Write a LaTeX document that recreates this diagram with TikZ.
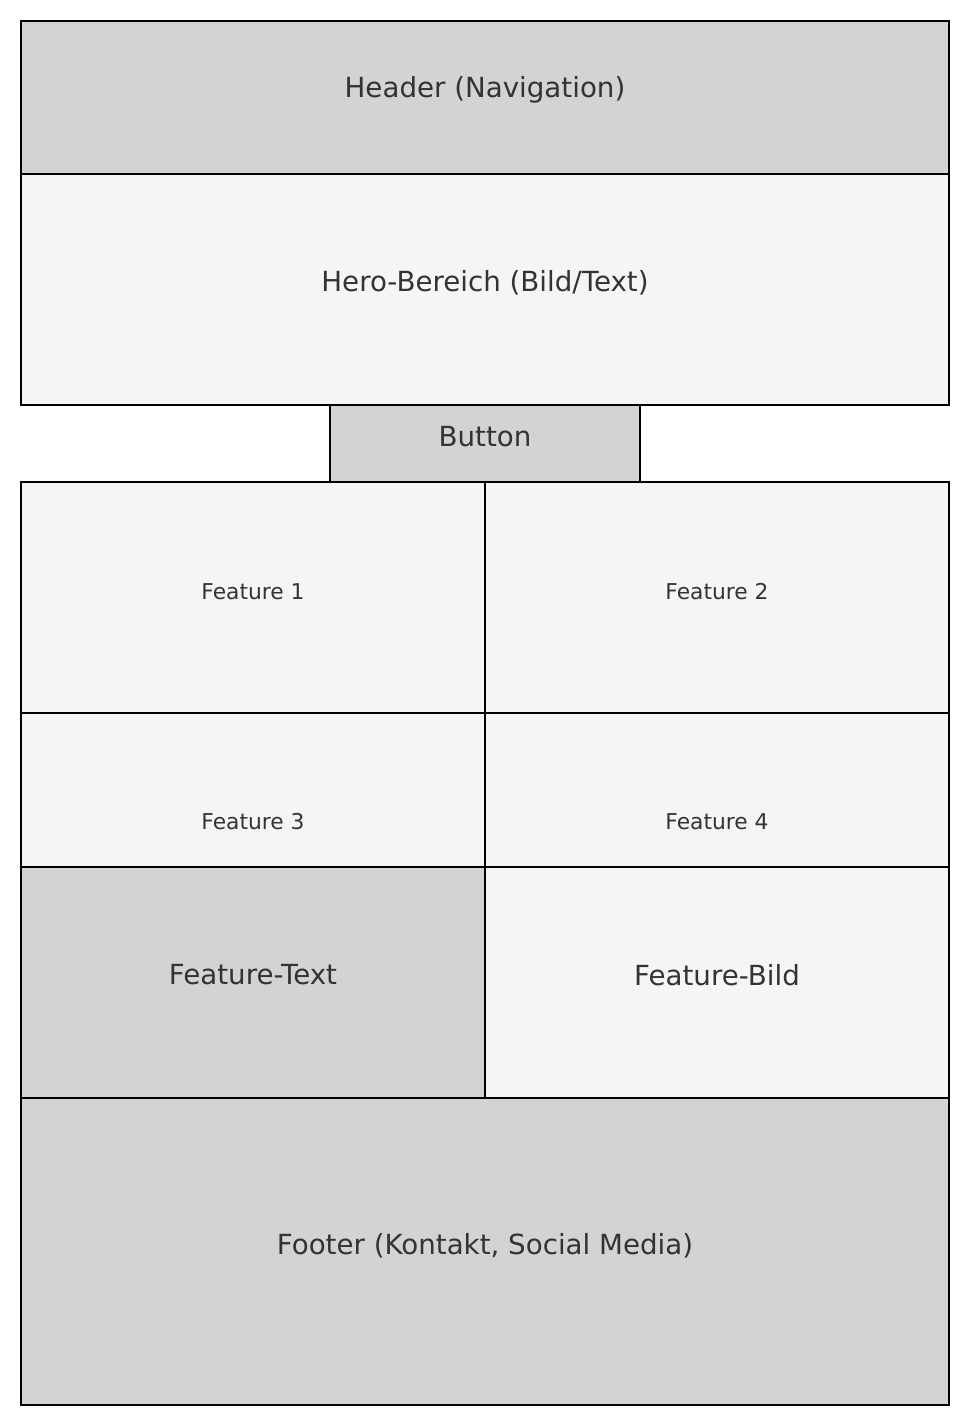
\documentclass[tikz,border=0pt]{standalone}
\usepackage{fontspec}
\setmainfont{DejaVu Sans}
\definecolor{boxdark}{HTML}{D3D3D3}
\definecolor{boxlight}{HTML}{F5F5F5}
\definecolor{txt}{HTML}{333333}
\begin{document}
\begin{tikzpicture}[x=1pt,y=-1pt,
  dark/.style={fill=boxdark,draw=black,line width=2.8pt},
  light/.style={fill=boxlight,draw=black,line width=2.8pt},
  big/.style={text=txt,font=\fontsize{27.7}{32}\selectfont,inner sep=0pt},
  small/.style={text=txt,font=\fontsize{21.8}{25}\selectfont,inner sep=0pt}]
\useasboundingbox (0,0) rectangle (969,1426);
\draw[dark] (21,21) rectangle (949,174);
\draw[light] (21,174) rectangle (949,405);
\draw[dark] (330,405) rectangle (640,482);
\draw[light] (21,482) rectangle (485,713);
\draw[light] (485,482) rectangle (949,713);
\draw[light] (21,713) rectangle (485,867);
\draw[light] (485,713) rectangle (949,867);
\draw[dark] (21,867) rectangle (485,1098);
\draw[light] (485,867) rectangle (949,1098);
\draw[dark] (21,1098) rectangle (949,1405);
\node[big] (header) at (485,90) {Header (Navigation)};
\node[big] (hero) at (485,283) {Hero-Bereich (Bild/Text)};
\node[big] (button) at (485,437) {Button};
\node[small] (f1) at (253,592) {Feature 1};
\node[small] (f2) at (717,592) {Feature 2};
\node[small] (f3) at (253,822) {Feature 3};
\node[small] (f4) at (717,822) {Feature 4};
\node[big] (ftext) at (253,975) {Feature-Text};
\node[big] (fbild) at (717,975) {Feature-Bild};
\node[big] (footer) at (485,1246) {Footer (Kontakt, Social Media)};
\end{tikzpicture}
\end{document}
